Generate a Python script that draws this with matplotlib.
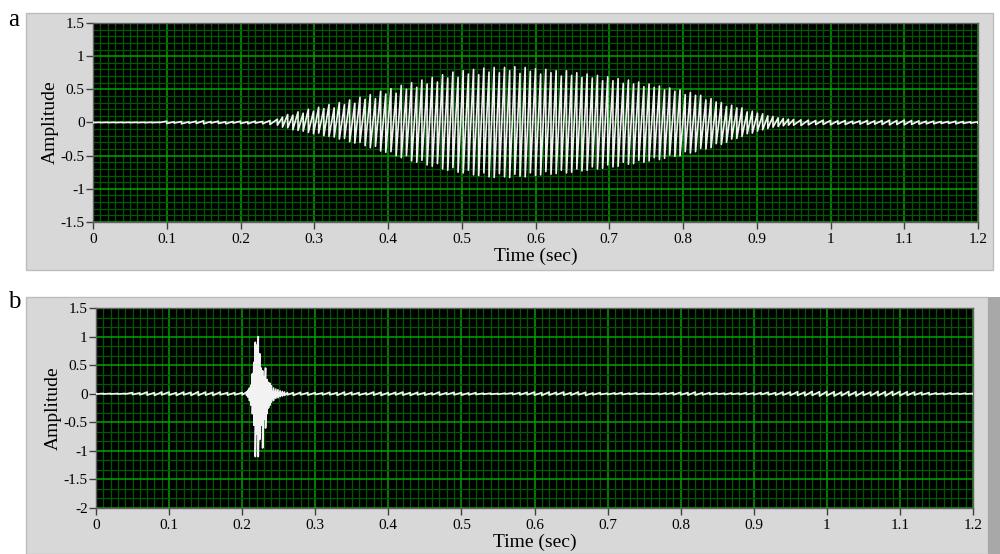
import numpy as np
import matplotlib
matplotlib.use('Agg')
import matplotlib.pyplot as plt
from matplotlib.patches import Rectangle
from matplotlib.ticker import MultipleLocator

# panel a, quiet parts: peaks every 0.01 s, 0.00-0.24 and 0.95-1.20
a_pre_hi = [0.003] * 10 + [0.02, 0.01, 0.015, 0.01, 0.02, 0.025, 0.015, 0.02, 0.01, 0.015,
                           0.02, 0.01, 0.02, 0.015, 0.03]
a_pre_lo = [-0.003] * 10 + [-0.015, -0.01, -0.02, -0.01, -0.015, -0.02, -0.01, -0.015, -0.02, -0.01,
                            -0.015, -0.02, -0.01, -0.02, -0.03]
a_post_hi = [0.045, 0.04, 0.035, 0.03, 0.035, 0.03, 0.025, 0.03, 0.02, 0.025,
             0.03, 0.025, 0.03, 0.035, 0.03, 0.035, 0.03, 0.025, 0.02, 0.02,
             0.015, 0.015, 0.02, 0.015, 0.01, 0.01]
a_post_lo = [-0.04, -0.045, -0.035, -0.03, -0.03, -0.035, -0.025, -0.03, -0.02, -0.025,
             -0.03, -0.025, -0.03, -0.035, -0.03, -0.035, -0.03, -0.025, -0.02, -0.02,
             -0.015, -0.015, -0.02, -0.015, -0.01, -0.01]

# panel a, voiced part: one peak pair every 0.007 s from 0.25 s
a_voice_hi = [0.05, 0.08, 0.12, 0.11, 0.16, 0.14, 0.20, 0.17, 0.23, 0.21,
              0.27, 0.22, 0.30, 0.27, 0.34, 0.29, 0.38, 0.35, 0.42, 0.36,
              0.47, 0.43, 0.51, 0.44, 0.56, 0.50, 0.60, 0.53, 0.64, 0.58,
              0.68, 0.61, 0.72, 0.67, 0.76, 0.68, 0.78, 0.73, 0.80, 0.72,
              0.82, 0.76, 0.83, 0.75, 0.83, 0.78, 0.84, 0.74, 0.83, 0.77,
              0.81, 0.73, 0.80, 0.75, 0.78, 0.70, 0.78, 0.71, 0.75, 0.68,
              0.73, 0.67, 0.71, 0.63, 0.69, 0.63, 0.66, 0.59, 0.64, 0.58,
              0.61, 0.54, 0.58, 0.53, 0.55, 0.49, 0.52, 0.47, 0.49, 0.42,
              0.45, 0.41, 0.41, 0.34, 0.36, 0.31, 0.30, 0.24, 0.26, 0.22,
              0.22, 0.16, 0.17, 0.14, 0.13, 0.10, 0.09, 0.07, 0.06, 0.05]
a_voice_lo = [-0.04, -0.07, -0.08, -0.11, -0.12, -0.13, -0.15, -0.17, -0.16, -0.20,
              -0.21, -0.22, -0.25, -0.24, -0.29, -0.31, -0.30, -0.35, -0.38, -0.36,
              -0.43, -0.45, -0.44, -0.50, -0.53, -0.50, -0.58, -0.60, -0.57, -0.64,
              -0.66, -0.62, -0.70, -0.72, -0.68, -0.75, -0.76, -0.72, -0.79, -0.80,
              -0.76, -0.82, -0.83, -0.77, -0.82, -0.83, -0.78, -0.81, -0.82, -0.76,
              -0.80, -0.79, -0.74, -0.78, -0.77, -0.72, -0.76, -0.75, -0.70, -0.73,
              -0.72, -0.67, -0.70, -0.69, -0.64, -0.67, -0.66, -0.60, -0.63, -0.62,
              -0.57, -0.60, -0.58, -0.53, -0.56, -0.54, -0.49, -0.51, -0.50, -0.44,
              -0.46, -0.44, -0.39, -0.40, -0.38, -0.32, -0.33, -0.30, -0.25, -0.24,
              -0.21, -0.17, -0.16, -0.13, -0.11, -0.09, -0.07, -0.06, -0.05, -0.04]

# panel b : background noise every 0.01 s plus the short burst
b_hi = [0.005] * 5 + [
    0.02, 0.015, 0.03, 0.02, 0.03, 0.03, 0.02, 0.03, 0.025, 0.035,
    0.03, 0.025, 0.03, 0.02, 0.02, 0.02, 0.02, 0.02, 0.02, 0.02,
    0.02, 0.03, 0.02, 0.025, 0.02, 0.02, 0.015, 0.025, 0.02, 0.03,
    0.025, 0.02, 0.015, 0.03, 0.025, 0.02, 0.025, 0.03, 0.02, 0.025,
    0.02, 0.015, 0.03, 0.02, 0.025, 0.02, 0.015, 0.02, 0.01, 0.01,
    0.005, 0.01, 0.015, 0.02, 0.025, 0.03, 0.02, 0.03, 0.025, 0.03,
    0.02, 0.03, 0.025, 0.015, 0.02, 0.01, 0.015, 0.02, 0.01, 0.015,
    0.01, 0.005, 0.01, 0.015, 0.02, 0.025, 0.02, 0.03, 0.02, 0.02,
    0.015, 0.01, 0.015, 0.01, 0.02, 0.015, 0.02, 0.025, 0.02, 0.03,
    0.03, 0.035, 0.03, 0.04, 0.035, 0.04, 0.035, 0.03, 0.04, 0.035,
    0.035, 0.03, 0.04, 0.035, 0.04, 0.04, 0.035, 0.03, 0.025, 0.02,
    0.015, 0.01, 0.015, 0.01, 0.01, 0.005]
b_lo = [-0.005] * 5 + [
    -0.015, -0.02, -0.025, -0.03, -0.02, -0.025, -0.03, -0.02, -0.03, -0.03,
    -0.025, -0.03, -0.02, -0.025, -0.02, -0.02, -0.02, -0.02, -0.02, -0.02,
    -0.02, -0.025, -0.03, -0.02, -0.025, -0.015, -0.02, -0.02, -0.03, -0.025,
    -0.02, -0.025, -0.02, -0.025, -0.03, -0.025, -0.02, -0.025, -0.03, -0.02,
    -0.025, -0.02, -0.025, -0.015, -0.02, -0.025, -0.02, -0.015, -0.01, -0.01,
    -0.01, -0.005, -0.015, -0.02, -0.02, -0.025, -0.03, -0.025, -0.02, -0.025,
    -0.025, -0.02, -0.03, -0.02, -0.015, -0.015, -0.01, -0.015, -0.01, -0.01,
    -0.005, -0.01, -0.015, -0.01, -0.02, -0.02, -0.025, -0.025, -0.02, -0.015,
    -0.01, -0.015, -0.01, -0.015, -0.015, -0.02, -0.015, -0.02, -0.025, -0.025,
    -0.03, -0.03, -0.035, -0.03, -0.04, -0.035, -0.04, -0.035, -0.035, -0.04,
    -0.03, -0.035, -0.035, -0.04, -0.03, -0.035, -0.03, -0.025, -0.02, -0.02,
    -0.01, -0.015, -0.01, -0.01, -0.005, -0.005]
burst_t = [0.206, 0.208, 0.210, 0.212, 0.214, 0.216, 0.218, 0.220, 0.222, 0.224,
           0.226, 0.228, 0.230, 0.232, 0.234, 0.236, 0.238, 0.240, 0.243, 0.246,
           0.249, 0.252, 0.255, 0.258, 0.262]
burst_hi = [0.03, 0.06, 0.10, 0.15, 0.35, 0.55, 0.90, 0.85, 1.00, 0.70,
            0.45, 0.40, 0.30, 0.45, 0.25, 0.20, 0.18, 0.14, 0.10, 0.08,
            0.07, 0.05, 0.04, 0.03, 0.02]
burst_lo = [-0.03, -0.06, -0.12, -0.20, -0.35, -0.55, -1.10, -0.70, -1.10, -0.80,
            -0.55, -0.95, -0.45, -0.60, -0.35, -0.25, -0.20, -0.15, -0.12, -0.08,
            -0.07, -0.05, -0.04, -0.03, -0.02]

x_ticks = [0, 0.1, 0.2, 0.3, 0.4, 0.5, 0.6, 0.7, 0.8, 0.9, 1, 1.1, 1.2]
x_labels = ['0', '0.1', '0.2', '0.3', '0.4', '0.5', '0.6', '0.7', '0.8', '0.9', '1', '1.1', '1.2']
ya_ticks = [-1.5, -1, -0.5, 0, 0.5, 1, 1.5]
ya_labels = ['-1.5', '-1', '-0.5', '0', '0.5', '1', '1.5']
yb_ticks = [-2, -1.5, -1, -0.5, 0, 0.5, 1, 1.5]
yb_labels = ['-2', '-1.5', '-1', '-0.5', '0', '0.5', '1', '1.5']

# time axes
t = np.round(np.arange(121) * 0.01, 3)
t_pre = t[:25]
t_post = t[95:]
t_voice = 0.25 + np.arange(len(a_voice_hi)) * 0.007

ta = np.concatenate([t_pre, t_voice, t_post])
ha = np.concatenate([a_pre_hi, a_voice_hi, a_post_hi])
la = np.concatenate([a_pre_lo, a_voice_lo, a_post_lo])

# combine noise and burst for panel b
keep = (t < 0.205) | (t > 0.265)
tb = np.concatenate([t[keep], burst_t])
hb = np.concatenate([np.array(b_hi)[keep], burst_hi])
lb = np.concatenate([np.array(b_lo)[keep], burst_lo])
order = np.argsort(tb)
tb, hb, lb = tb[order], hb[order], lb[order]


def zigzag(tt, hi, lo):
    xs = np.repeat(tt, 2)
    ys = np.empty(2 * len(tt))
    ys[0::2] = hi
    ys[1::2] = lo
    return xs, ys


plt.rcParams['font.family'] = ['Liberation Serif', 'DejaVu Serif']

fig = plt.figure(figsize=(10, 5.54), dpi=100)
fig.patch.set_facecolor('white')

# grey instrument panels
fig.patches.append(Rectangle((0.026, 0.5126), 0.967, 0.464, transform=fig.transFigure,
                             facecolor='#d8d8d8', edgecolor='#bdbdbd', lw=1, zorder=-5))
fig.patches.append(Rectangle((0.026, 0.0), 0.962, 0.464, transform=fig.transFigure,
                             facecolor='#d8d8d8', edgecolor='#bdbdbd', lw=1, zorder=-5))
fig.patches.append(Rectangle((0.988, 0.0), 0.012, 0.464, transform=fig.transFigure,
                             facecolor='#a8a8a8', edgecolor='none', zorder=-5))

ax1 = fig.add_axes([0.093, 0.5993, 0.885, 0.3592])
ax2 = fig.add_axes([0.096, 0.083, 0.877, 0.361])

panels = [
    (ax1, ta, ha, la, (-1.5, 1.5), ya_ticks, ya_labels, 0.1),
    (ax2, tb, hb, lb, (-2, 1.5), yb_ticks, yb_labels, 0.5 / 3),
]
for ax, tt, hi, lo, ylim, yt, yl, ymin_step in panels:
    ax.set_zorder(2)
    ax.set_facecolor('black')
    ax.set_xlim(0, 1.2)
    ax.set_ylim(*ylim)
    ax.set_xticks(x_ticks)
    ax.set_xticklabels(x_labels)
    ax.set_yticks(yt)
    ax.set_yticklabels(yl)
    ax.xaxis.set_minor_locator(MultipleLocator(0.01))
    ax.yaxis.set_minor_locator(MultipleLocator(ymin_step))
    ax.grid(which='minor', color='#005800', lw=0.9)
    ax.grid(which='major', color='#00a400', lw=1.1)
    ax.set_axisbelow(True)
    ax.tick_params(which='minor', length=0)
    ax.tick_params(axis='x', which='major', length=5, width=1, color='#404040',
                   labelsize=11, pad=3)
    ax.tick_params(axis='y', which='major', length=5, width=1, color='#404040',
                   labelsize=11, pad=1)
    for s in ax.spines.values():
        s.set_color('#606060')
        s.set_linewidth(1)
    xs, ys = zigzag(tt, hi, lo)
    ax.plot(xs, ys, color='#f2f2f2', lw=1.2, zorder=3)
    ax.set_xlabel('Time (sec)', fontsize=14, labelpad=1)
    ax.set_ylabel('Amplitude', fontsize=14, labelpad=1)

fig.text(0.008, 0.963, 'a', fontsize=18, va='center', ha='left')
fig.text(0.008, 0.455, 'b', fontsize=18, va='center', ha='left')

fig.savefig('out.png', dpi=100, facecolor='white')
